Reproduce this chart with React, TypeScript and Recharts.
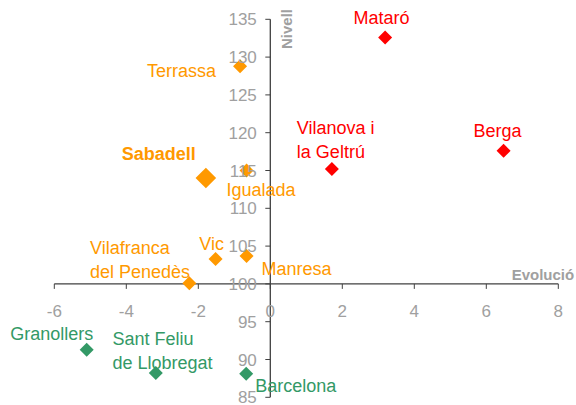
import React from "react";
import { ScatterChart, Scatter, XAxis, YAxis, ReferenceLine } from "recharts";

// ---- data ----
const redNames = ["Mataró", "Berga", "Vilanova i\nla Geltrú"];
const redX = [3.19, 6.48, 1.71];
const redY = [132.6, 117.6, 115.2];

const orangeNames = ["Terrassa", "Sabadell", "Igualada", "Vic", "Manresa", "Vilafranca\ndel Penedès"];
const orangeX = [-0.84, -1.79, -0.66, -1.52, -0.66, -2.25];
const orangeY = [128.8, 114.0, 115.0, 103.3, 103.7, 100.1];

const greenNames = ["Granollers", "Sant Feliu\nde Llobregat", "Barcelona"];
const greenX = [-5.1, -3.18, -0.67];
const greenY = [91.3, 88.2, 88.1];

const xTicks = [-6, -4, -2, 0, 2, 4, 6, 8];
const yTicks = [85, 90, 95, 100, 105, 110, 115, 120, 125, 130, 135];
const xTitle = "Evolució";
const yTitle = "Nivell";
const highlighted = ["Sabadell"];

// ---- layout / style ----
const W = 576;
const H = 405;
const AX = 1; // axis band size
const M = { top: 19.3, right: 17.7, bottom: 7.7 - AX, left: 54.3 - AX };
const X_DOMAIN: [number, number] = [-6, 8];
const Y_DOMAIN: [number, number] = [85, 135];
const PLOT_LEFT = 54.3;
const PLOT_TOP = 19.3;
const plotW = W - PLOT_LEFT - 17.7;
const plotH = H - PLOT_TOP - 7.7;
const X_CROSS = PLOT_LEFT + ((0 - X_DOMAIN[0]) / (X_DOMAIN[1] - X_DOMAIN[0])) * plotW;
const Y_CROSS = PLOT_TOP + ((Y_DOMAIN[1] - 100) / (Y_DOMAIN[1] - Y_DOMAIN[0])) * plotH;

const FONT = "'Liberation Sans', Arial, sans-serif";
const TICK_COLOR = "#a0a0a0";
const AXIS_COLOR = "#404040";
const RED = "#ff0000";
const ORANGE = "#ff9900";
const GREEN = "#339966";

const LABEL_LAYOUT: Record<string, { dx: number; dy: number; anchor: "start" | "middle" | "end" }> = {
  "Mataró": { dx: -3.6, dy: -13.7, anchor: "middle" },
  "Berga": { dx: -6, dy: -13.4, anchor: "middle" },
  "Vilanova i\nla Geltrú": { dx: -35, dy: -35, anchor: "start" },
  "Terrassa": { dx: -24, dy: 11.3, anchor: "end" },
  "Sabadell": { dx: -10, dy: -17.6, anchor: "end" },
  "Igualada": { dx: -20, dy: 25, anchor: "start" },
  "Vic": { dx: -4, dy: -9.3, anchor: "middle" },
  "Manresa": { dx: 15, dy: 19, anchor: "start" },
  "Vilafranca\ndel Penedès": { dx: -99.3, dy: -29, anchor: "start" },
  "Granollers": { dx: -35, dy: -10, anchor: "middle" },
  "Sant Feliu\nde Llobregat": { dx: -43.3, dy: -28.3, anchor: "start" },
  "Barcelona": { dx: 9, dy: 17.7, anchor: "start" },
};

const build = (names: string[], xs: number[], ys: number[]) =>
  names.map((name, i) => ({ name, x: xs[i], y: ys[i] }));

const redData = build(redNames, redX, redY);
const orangeData = build(orangeNames, orangeX, orangeY);
const greenData = build(greenNames, greenX, greenY);

const makeShape = (color: string) => (props: any) => {
  const { cx, cy, payload } = props;
  if (cx == null || cy == null) return <g />;
  const big = highlighted.includes(payload.name);
  const r = big ? 10.3 : 7;
  const lay = LABEL_LAYOUT[payload.name] || { dx: 0, dy: -12, anchor: "middle" };
  const lines = String(payload.name).split("\n");
  return (
    <g>
      <polygon
        points={`${cx},${cy - r} ${cx + r},${cy} ${cx},${cy + r} ${cx - r},${cy}`}
        fill={color}
      />
      <text
        x={cx + lay.dx}
        y={cy + lay.dy}
        textAnchor={lay.anchor}
        fill={color}
        fontFamily={FONT}
        fontSize={18}
        fontWeight={big ? "bold" : "normal"}
      >
        {lines.map((l, i) => (
          <tspan key={i} x={cx + lay.dx} dy={i === 0 ? 0 : 24}>
            {l}
          </tspan>
        ))}
      </text>
    </g>
  );
};

const renderXTick = (props: any) => {
  const { x, payload } = props;
  return (
    <g>
      <line x1={x} x2={x} y1={Y_CROSS} y2={Y_CROSS + 5} stroke={AXIS_COLOR} strokeWidth={1} />
      <text x={x} y={Y_CROSS + 33} textAnchor="middle" fill={TICK_COLOR} fontFamily={FONT} fontSize={17}>
        {payload.value}
      </text>
    </g>
  );
};

const renderYTick = (props: any) => {
  const { y, payload } = props;
  return (
    <g>
      <line x1={X_CROSS - 5} x2={X_CROSS} y1={y} y2={y} stroke={AXIS_COLOR} strokeWidth={1} />
      <text x={X_CROSS - 13.5} y={y + 6} textAnchor="end" fill={TICK_COLOR} fontFamily={FONT} fontSize={17}>
        {payload.value}
      </text>
    </g>
  );
};

export default function App() {
  return (
    <div style={{ position: "absolute", left: 0, top: 0, width: W, height: H, background: "#fff", overflow: "hidden" }}>
      <ScatterChart width={W} height={H} margin={M}>
        <ReferenceLine x={0} stroke={AXIS_COLOR} strokeWidth={1.3} />
        <ReferenceLine y={100} stroke={AXIS_COLOR} strokeWidth={1.3} />
        <Scatter data={orangeData} dataKey="y" shape={makeShape(ORANGE)} isAnimationActive={false} />
        <Scatter data={redData} dataKey="y" shape={makeShape(RED)} isAnimationActive={false} />
        <Scatter data={greenData} dataKey="y" shape={makeShape(GREEN)} isAnimationActive={false} />
        <XAxis
          type="number"
          dataKey="x"
          domain={X_DOMAIN}
          ticks={xTicks}
          interval={0}
          axisLine={false}
          tickLine={false}
          height={AX}
          tick={renderXTick}
        />
        <YAxis
          type="number"
          dataKey="y"
          domain={Y_DOMAIN}
          ticks={yTicks}
          interval={0}
          axisLine={false}
          tickLine={false}
          width={AX}
          tick={renderYTick}
        />
        <text
          x={X_CROSS + 21.2}
          y={29}
          transform={`rotate(-90, ${X_CROSS + 21.2}, 29)`}
          textAnchor="middle"
          fill={TICK_COLOR}
          fontFamily={FONT}
          fontSize={15}
          fontWeight="bold"
        >
          {yTitle}
        </text>
        <text x={511.7} y={280} textAnchor="start" fill={TICK_COLOR} fontFamily={FONT} fontSize={15} fontWeight="bold">
          {xTitle}
        </text>
      </ScatterChart>
    </div>
  );
}
